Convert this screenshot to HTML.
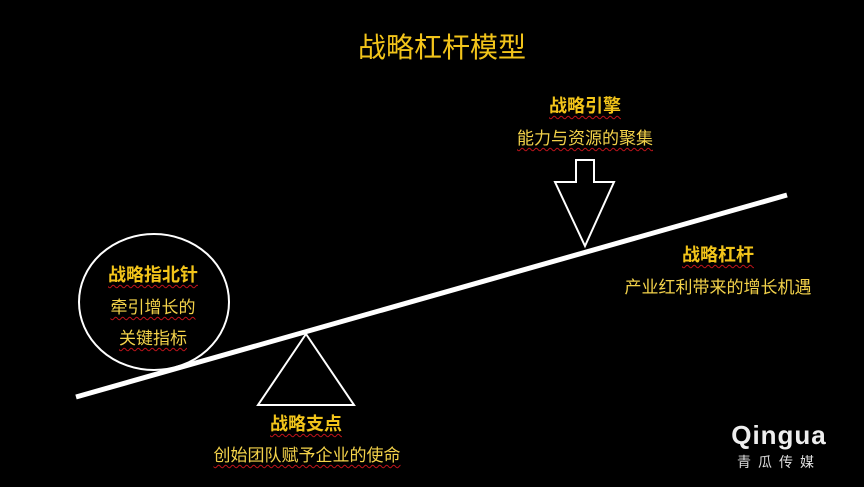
<!DOCTYPE html>
<html><head><meta charset="utf-8"><style>
html,body{margin:0;padding:0;background:#000;}
body{width:864px;height:487px;position:relative;overflow:hidden;font-family:"Liberation Sans","Noto Sans CJK SC",sans-serif;}
.t{position:absolute;white-space:nowrap;color:#f2c41a;text-align:center;transform:translateX(-50%);}
.b{font-weight:bold;font-size:18px;text-decoration:underline wavy #c0141b;text-decoration-thickness:1px;text-underline-offset:3px;}
.s{font-size:17px;color:#f3d24a;text-decoration:underline wavy #c0141b;text-decoration-thickness:1px;text-underline-offset:3px;}
.n{font-size:17px;color:#f3d24a;}
</style></head><body>
<svg width="864" height="487" style="position:absolute;left:0;top:0">
<line x1="76" y1="397" x2="787" y2="195" stroke="#fff" stroke-width="5"/>
<ellipse cx="154" cy="302" rx="75" ry="68" fill="none" stroke="#fff" stroke-width="2"/>
<polygon points="306,334 258,405 354,405" fill="none" stroke="#fff" stroke-width="2"/>
<polygon points="576,160 594,160 594,182 614,182 585,246 555,182 576,182" fill="none" stroke="#fff" stroke-width="2"/>
</svg>
<div class="t" style="left:442px;top:26px;font-size:28px;color:#f2c41a;">战略杠杆模型</div>
<div class="t b" style="left:585px;top:92px;">战略引擎</div>
<div class="t s" style="left:585px;top:124px;">能力与资源的聚集</div>
<div class="t b" style="left:718px;top:241px;">战略杠杆</div>
<div class="t n" style="left:718px;top:273px;">产业红利带来的增长机遇</div>
<div class="t b" style="left:153px;top:261px;">战略指北针</div>
<div class="t s" style="left:153px;top:293px;">牵引增长的</div>
<div class="t s" style="left:153px;top:324px;">关键指标</div>
<div class="t b" style="left:306px;top:410px;">战略支点</div>
<div class="t s" style="left:307px;top:441px;">创始团队赋予企业的使命</div>
<div class="t" style="left:779px;top:420px;font-size:26px;font-weight:bold;color:#eee;letter-spacing:1px;">Qingua</div>
<div class="t" style="left:779px;top:452px;font-size:14px;color:#ddd;letter-spacing:7px;">青瓜传媒</div>
</body></html>
